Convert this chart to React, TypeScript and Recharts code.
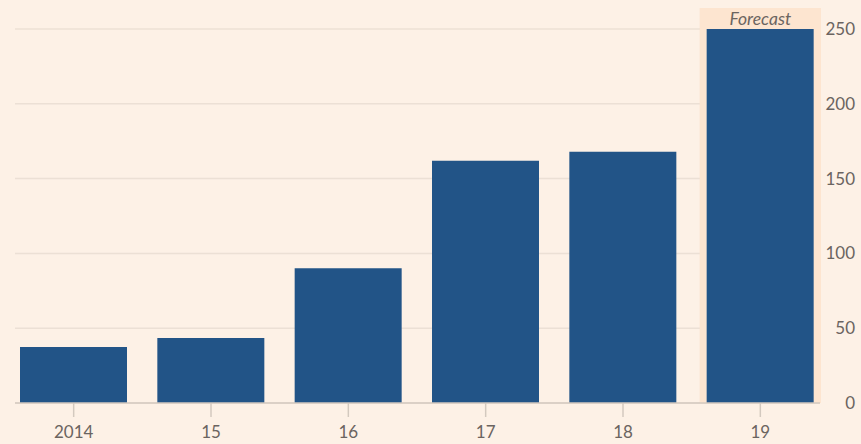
import React from "react";
import { BarChart, Bar, XAxis, YAxis, CartesianGrid, ReferenceArea } from "recharts";

const categories = ["2014", "15", "16", "17", "18", "19"];
const values = [37.5, 43.5, 90, 162, 168, 250];
const yTicks = [0, 50, 100, 150, 200, 250];
const forecastCategory = "19";
const forecastLabel = "Forecast";

const data = categories.map((c, i) => ({ year: c, value: values[i] }));

const BG = "#fdf1e6";
const BAR = "#225487";
const TEXT = "#6b6460";
const FONT = "Lato, 'Open Sans', sans-serif";

const ForecastShape = (props: any) => {
  const { x, y, width, height } = props;
  const inset = 8;
  const extra = 21;
  return (
    <g>
      <rect x={x + inset} y={y - extra} width={width - inset * 2} height={height + extra} fill="#fde5d0" />
      <text x={x + width / 2} y={y - 4} textAnchor="middle" fontStyle="italic" fontSize={17.5} fill={TEXT} fontFamily={FONT}>
        {forecastLabel}
      </text>
    </g>
  );
};

const YTick = (props: any) => {
  const { x, y, payload } = props;
  return (
    <text x={x + 27} y={y} dy={6} textAnchor="end" fontSize={17} fill={TEXT} fontFamily={FONT}>
      {payload.value}
    </text>
  );
};

export default function App() {
  return (
    <div style={{ position: "absolute", left: 0, top: 0, width: 861, height: 444, background: BG }}>
      <BarChart width={861} height={444} data={data} margin={{ top: 29, right: 1, bottom: 0, left: 15 }}>
        <CartesianGrid vertical={false} stroke="#ece0d5" strokeWidth={1.5} />
        <ReferenceArea x1={forecastCategory} x2={forecastCategory} y1={0} y2={250} ifOverflow="visible" shape={<ForecastShape />} />
        <XAxis
          dataKey="year"
          padding={{ left: -10, right: -9 }}
          height={41}
          axisLine={{ stroke: "#d3c9bf", strokeWidth: 1.5 }}
          tickLine={{ stroke: "#d3c9bf", strokeWidth: 1.5 }}
          tickSize={14}
          tickMargin={9}
          tick={{ fill: TEXT, fontSize: 17, fontFamily: FONT }}
        />
        <YAxis
          orientation="right"
          width={40}
          domain={[0, 250]}
          ticks={yTicks}
          axisLine={false}
          tickLine={false}
          tick={<YTick />}
        />
        <Bar dataKey="value" fill={BAR} barSize={107} isAnimationActive={false} />
      </BarChart>
    </div>
  );
}
